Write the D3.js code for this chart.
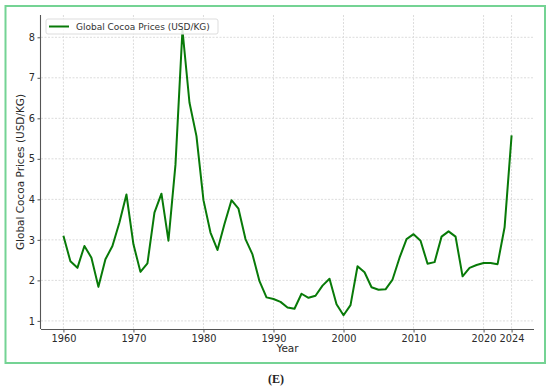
<!DOCTYPE html>
<html><head><meta charset="utf-8">
<script src="https://cdn.jsdelivr.net/npm/d3@7"></script>
<style>body{margin:0;background:#fff}svg{display:block}</style>
</head><body>
<svg id="c" width="550" height="387"></svg>
<script>
const years = d3.range(1960, 2025);
const prices = [3.10,2.47,2.31,2.85,2.56,1.84,2.52,2.85,3.43,4.12,
  2.89,2.21,2.42,3.67,4.14,2.98,4.85,8.18,6.39,5.56,
  3.98,3.18,2.75,3.39,3.98,3.77,3.02,2.64,1.98,1.58,
  1.54,1.47,1.33,1.30,1.67,1.57,1.62,1.87,2.04,1.41,
  1.14,1.39,2.35,2.20,1.83,1.77,1.78,2.02,2.56,3.02,
  3.14,2.98,2.41,2.45,3.08,3.21,3.08,2.10,2.31,2.38,
  2.43,2.43,2.40,3.31,5.58];
const xTicks = [1960,1970,1980,1990,2000,2010,2020,2024];
const yTicks = [1,2,3,4,5,6,7,8];
const seriesName = "Global Cocoa Prices (USD/KG)";
const xLabel = "Year", yLabel = "Global Cocoa Prices (USD/KG)", caption = "(E)";

const svg = d3.select("#c");
const font = "DejaVu Sans, sans-serif";
// outer frame
svg.append("rect").attr("x",5.5).attr("y",6).attr("width",539.5).attr("height",357)
  .attr("fill","none").attr("stroke","#74d394").attr("stroke-width",2);

const L=41, R=534, T=15, B=329;
const x = d3.scaleLinear().domain([1956.8, 2027.2]).range([L, R]);
const y = d3.scaleLinear().domain([0.8, 8.55]).range([B, T]);

const g = svg.append("g");
// grid
g.selectAll(".vg").data(xTicks).join("line")
  .attr("x1",d=>x(d)).attr("x2",d=>x(d)).attr("y1",T).attr("y2",B)
  .attr("stroke","#dcdcdc").attr("stroke-width",1).attr("stroke-dasharray","2,1.5");
g.selectAll(".hg").data(yTicks).join("line")
  .attr("x1",L).attr("x2",R).attr("y1",d=>y(d)).attr("y2",d=>y(d))
  .attr("stroke","#dcdcdc").attr("stroke-width",1).attr("stroke-dasharray","2,1.5");

// axes
const xa = svg.append("g").attr("transform",`translate(0,${B})`)
  .call(d3.axisBottom(x).tickValues(xTicks).tickFormat(d3.format("d")).tickSize(3.5).tickPadding(2.5));
const ya = svg.append("g").attr("transform",`translate(${L},0)`)
  .call(d3.axisLeft(y).tickValues(yTicks).tickSize(3.5).tickPadding(2.5));
[xa,ya].forEach(a=>{
  a.select(".domain").attr("stroke","#555").attr("stroke-width",1.1);
  a.selectAll(".tick line").attr("stroke","#555");
  a.selectAll("text").attr("font-family",font).attr("font-size",9.8).attr("fill","#2a2a2a");
});
xa.select(".domain").attr("d",`M${L},0.5H${R}`);
ya.select(".domain").attr("d",`M-0.5,${T}V${B}`);

// line
svg.append("path").datum(years.map((d,i)=>[d,prices[i]]))
  .attr("d", d3.line().x(d=>x(d[0])).y(d=>y(d[1])))
  .attr("fill","none").attr("stroke","#087a08").attr("stroke-width",2).attr("stroke-linejoin","round");

// legend
const lg = svg.append("g");
lg.append("rect").attr("x",46).attr("y",19).attr("width",172).attr("height",15)
  .attr("fill","#fff").attr("fill-opacity",0.85).attr("stroke","#ddd").attr("rx",2);
lg.append("line").attr("x1",49).attr("x2",69).attr("y1",26.5).attr("y2",26.5)
  .attr("stroke","#087a08").attr("stroke-width",2);
lg.append("text").attr("x",76).attr("y",30).text(seriesName)
  .attr("font-family",font).attr("font-size",9).attr("fill","#333");

// axis labels
svg.append("text").attr("x",(L+R)/2).attr("y",352).attr("text-anchor","middle")
  .attr("font-family",font).attr("font-size",10.5).attr("fill","#2a2a2a").text(xLabel);
svg.append("text").attr("transform",`translate(24,${(T+B)/2}) rotate(-90)`).attr("text-anchor","middle")
  .attr("font-family",font).attr("font-size",10.5).attr("fill","#2a2a2a").text(yLabel);
// caption
svg.append("text").attr("x",276).attr("y",383).attr("text-anchor","middle")
  .attr("font-family","Liberation Serif, serif").attr("font-weight","bold").attr("font-size",12)
  .attr("fill","#222").text(caption);
</script>
</body></html>
